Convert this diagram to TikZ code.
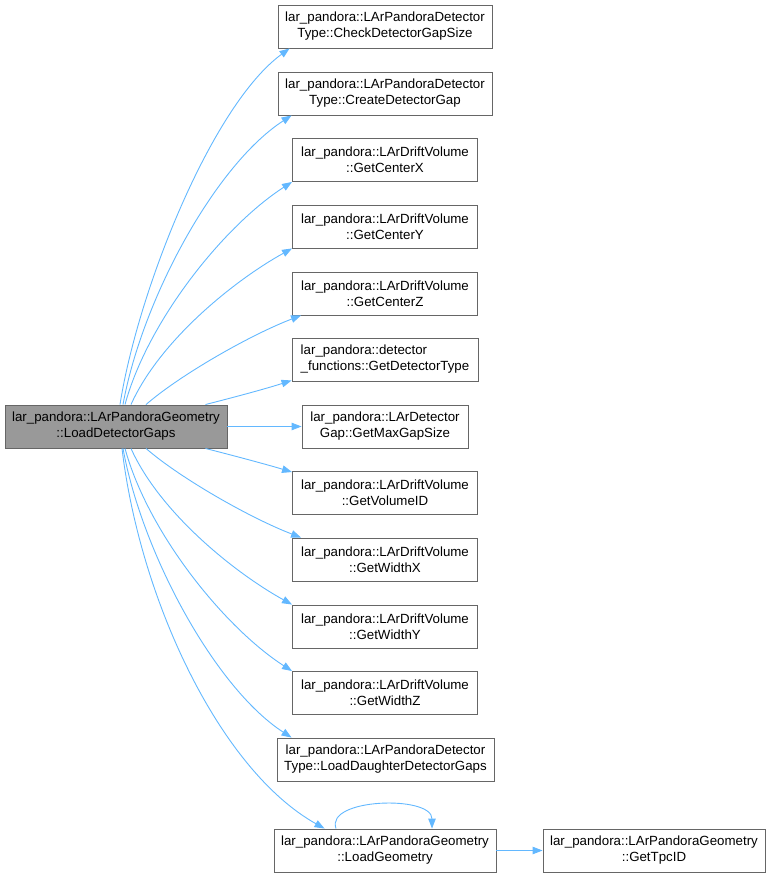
\documentclass[tikz,border=0pt]{standalone}
\usepackage{fontspec}
\setmainfont{Liberation Sans}
\usetikzlibrary{arrows.meta}
\begin{document}
\begin{tikzpicture}[x=1pt, y=-1pt, font=\fontsize{13.3}{16}\selectfont,
  fn/.style={draw=boxline, fill=white, line width=0.9pt, minimum height=43pt,
    inner xsep=6pt, inner ysep=2pt, align=center},
  call/.style={draw=edge, line width=0.9pt, -{Triangle[length=10pt,width=7.5pt]}}]
\definecolor{edge}{HTML}{63B8FF}
\definecolor{boxline}{HTML}{666666}
\definecolor{caller}{HTML}{999999}
\useasboundingbox (0,0) rectangle (771,877);
% the caller
\node[fn, fill=caller, minimum width=222pt] (gaps) at (116,426.5)
  {lar\_pandora::LArPandoraGeometry\\::LoadDetectorGaps};
% the callees
\node[fn, minimum width=214pt] (chk) at (385,26.5)
  {lar\_pandora::LArPandoraDetector\\Type::CheckDetectorGapSize};
\node[fn, minimum width=214pt] (crt) at (385,93.5)
  {lar\_pandora::LArPandoraDetector\\Type::CreateDetectorGap};
\node[fn, minimum width=185pt] (cx) at (385,160)
  {lar\_pandora::LArDriftVolume\\::GetCenterX};
\node[fn, minimum width=185pt] (cy) at (385,226.5)
  {lar\_pandora::LArDriftVolume\\::GetCenterY};
\node[fn, minimum width=185pt] (cz) at (385,293.5)
  {lar\_pandora::LArDriftVolume\\::GetCenterZ};
\node[fn, minimum width=186pt, align=left] (dtype) at (385,359.5)
  {lar\_pandora::detector\\\_functions::GetDetectorType};
\node[fn, minimum width=166pt] (maxgap) at (385,426.5)
  {lar\_pandora::LArDetector\\Gap::GetMaxGapSize};
\node[fn, minimum width=185pt] (vol) at (385,493)
  {lar\_pandora::LArDriftVolume\\::GetVolumeID};
\node[fn, minimum width=185pt] (wx) at (385,559.5)
  {lar\_pandora::LArDriftVolume\\::GetWidthX};
\node[fn, minimum width=185pt] (wy) at (385,626.5)
  {lar\_pandora::LArDriftVolume\\::GetWidthY};
\node[fn, minimum width=185pt] (wz) at (385,693)
  {lar\_pandora::LArDriftVolume\\::GetWidthZ};
\node[fn, minimum width=217pt] (daught) at (385.5,759.5)
  {lar\_pandora::LArPandoraDetector\\Type::LoadDaughterDetectorGaps};
\node[fn, minimum width=222pt] (geom) at (385,850.5)
  {lar\_pandora::LArPandoraGeometry\\::LoadGeometry};
\node[fn, minimum width=222pt] (tpc) at (654,850.5)
  {lar\_pandora::LArPandoraGeometry\\::GetTpcID};
% calls going up
\draw[call] ([xshift=4pt]gaps.north) .. controls (138,290) and (212,105) .. ([xshift=12pt]chk.south west);
\draw[call] ([xshift=7pt]gaps.north) .. controls (142,300) and (215,165) .. ([xshift=14pt]crt.south west);
\draw[call] ([xshift=9pt]gaps.north) .. controls (148,320) and (225,225) .. (cx.south west);
\draw[call] ([xshift=15pt]gaps.north) .. controls (160,340) and (235,280) .. (cy.south west);
\draw[call] ([xshift=30pt]gaps.north) .. controls (180,375) and (250,335) .. ([xshift=9pt]cz.south west);
\draw[call] ([xshift=-22pt]gaps.north east) .. controls (235,397) and (265,389) .. ([yshift=1pt]dtype.south west);
\draw[call] (gaps.east) -- (maxgap.west);
% calls going down
\draw[call] ([xshift=-22pt]gaps.south east) .. controls (235,456) and (265,464) .. ([yshift=-1pt]vol.north west);
\draw[call] ([xshift=30pt]gaps.south) .. controls (180,478) and (250,518) .. ([xshift=9pt]wx.north west);
\draw[call] ([xshift=15pt]gaps.south) .. controls (160,513) and (235,573) .. (wy.north west);
\draw[call] ([xshift=9pt]gaps.south) .. controls (148,533) and (225,628) .. (wz.north west);
\draw[call] ([xshift=7pt]gaps.south) .. controls (142,553) and (215,688) .. ([xshift=15pt]daught.north west);
\draw[call] ([xshift=6pt]gaps.south) .. controls (140,600) and (220,770) .. ([xshift=51pt]geom.north west);
% recursion and last call
\draw[call] ([xshift=-49pt]geom.north) .. controls (325,798) and (432,795) .. ([xshift=47pt]geom.north);
\draw[call] (geom.east) -- (tpc.west);
\end{tikzpicture}
\end{document}
